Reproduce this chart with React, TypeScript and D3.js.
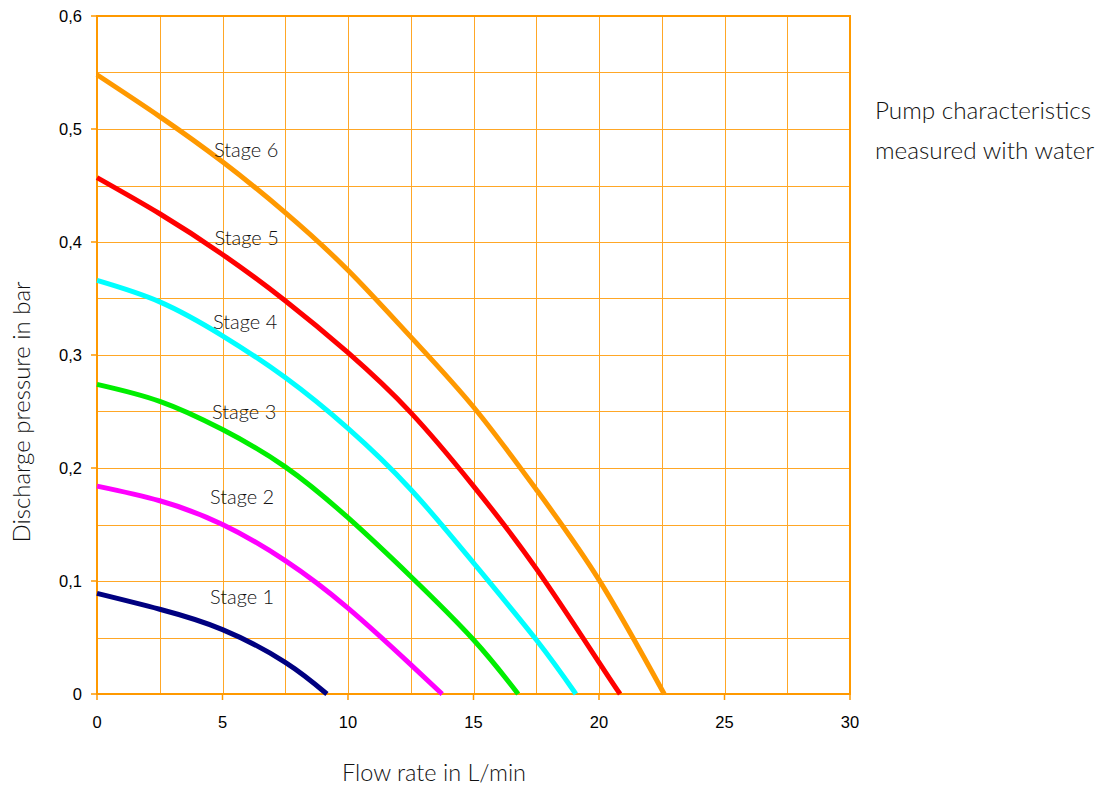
import React from "react";
import * as d3 from "d3";

const stageNames = ["Stage 1", "Stage 2", "Stage 3", "Stage 4", "Stage 5", "Stage 6"];
const stageColors = ["#000080", "#ff00ff", "#00ee00", "#00ffff", "#ff0000", "#ff9900"];

const stage1: [number, number][] = [[0, 0.089], [2.5, 0.075], [5, 0.057], [7.5, 0.028], [9.16, 0]];
const stage2: [number, number][] = [[0, 0.184], [2.5, 0.171], [5, 0.150], [7.5, 0.118], [10, 0.076], [12.5, 0.026], [13.75, 0]];
const stage3: [number, number][] = [[0, 0.274], [2.5, 0.259], [5, 0.234], [7.5, 0.201], [10, 0.156], [12.5, 0.104], [15, 0.048], [16.78, 0]];
const stage4: [number, number][] = [[0, 0.366], [2.5, 0.347], [5, 0.317], [7.5, 0.280], [10, 0.235], [12.5, 0.181], [15, 0.116], [17.5, 0.048], [19.08, 0]];
const stage5: [number, number][] = [[0, 0.457], [2.5, 0.425], [5, 0.389], [7.5, 0.348], [10, 0.302], [12.5, 0.249], [15, 0.184], [17.5, 0.111], [20, 0.028], [20.84, 0]];
const stage6: [number, number][] = [[0, 0.548], [2.5, 0.511], [5, 0.471], [7.5, 0.426], [10, 0.375], [12.5, 0.316], [15, 0.254], [17.5, 0.181], [20, 0.101], [22.6, 0]];
const stages = [stage1, stage2, stage3, stage4, stage5, stage6];

const labelPos: [number, number][] = [[5.78, 0.080], [5.78, 0.168], [5.86, 0.243], [5.9, 0.323], [5.96, 0.397], [5.94, 0.475]];

const xTicks = [0, 5, 10, 15, 20, 25, 30];
const yTicks = [0, 0.1, 0.2, 0.3, 0.4, 0.5, 0.6];
const xGrid = d3.range(0, 30.01, 2.5);
const yGrid = d3.range(0, 0.601, 0.05);

export default function App() {
  const W = 1099, H = 790;
  const x = d3.scaleLinear().domain([0, 30]).range([97, 850]);
  const y = d3.scaleLinear().domain([0, 0.6]).range([694, 16]);
  const line = d3.line<[number, number]>().x(d => x(d[0])).y(d => y(d[1])).curve(d3.curveNatural);
  const light = "Lato, 'Open Sans', sans-serif";
  const tickFont = "'Liberation Sans', Arial, sans-serif";
  return (
    <svg width={W} height={H} style={{ position: "absolute", left: 0, top: 0, background: "#fff" }}>
      {xGrid.map((v, i) => (
        <line key={"gx" + i} x1={Math.round(x(v)) + 0.5} x2={Math.round(x(v)) + 0.5} y1={y(0.6)} y2={y(0)} stroke="#ffa726" strokeWidth={1} />
      ))}
      {yGrid.map((v, i) => (
        <line key={"gy" + i} x1={x(0)} x2={x(30)} y1={Math.round(y(v)) + 0.5} y2={Math.round(y(v)) + 0.5} stroke="#ffa726" strokeWidth={1} />
      ))}
      {xTicks.map((v, i) => (
        <line key={"xt" + i} x1={x(v)} x2={x(v)} y1={y(0)} y2={y(0) + 6} stroke="#ff9900" strokeWidth={1.5} />
      ))}
      {yTicks.map((v, i) => (
        <line key={"yt" + i} x1={x(0) - 6} x2={x(0)} y1={y(v)} y2={y(v)} stroke="#ff9900" strokeWidth={1.5} />
      ))}
      <rect x={x(0)} y={y(0.6)} width={x(30) - x(0)} height={y(0) - y(0.6)} fill="none" stroke="#ff9900" strokeWidth={2} />
      {stages.map((s, i) => (
        <path key={"s" + i} d={line(s) || ""} fill="none" stroke={stageColors[i]} strokeWidth={5} />
      ))}
      {stageNames.map((n, i) => (
        <text key={"l" + i} x={x(labelPos[i][0])} y={y(labelPos[i][1])} textAnchor="middle" fontFamily={light} fontWeight={300} fontSize={20} fill="#111">{n}</text>
      ))}
      {xTicks.map((v, i) => (
        <text key={"xl" + i} x={x(v)} y={728} textAnchor="middle" fontFamily={tickFont} fontSize={16.5} fill="#000">{v}</text>
      ))}
      {yTicks.map((v, i) => (
        <text key={"yl" + i} x={82} y={y(v) + 6} textAnchor="end" fontFamily={tickFont} fontSize={16.5} fill="#000">{v === 0 ? "0" : v.toFixed(1).replace(".", ",")}</text>
      ))}
      <text x={434} y={781} textAnchor="middle" fontFamily={light} fontWeight={300} fontSize={23.5} fill="#111">Flow rate in L/min</text>
      <text transform="translate(30,412) rotate(-90)" textAnchor="middle" fontFamily={light} fontWeight={300} fontSize={24} fill="#111">Discharge pressure in bar</text>
      <text x={875} y={119} fontFamily={light} fontWeight={300} fontSize={24.3} fill="#111">Pump characteristics</text>
      <text x={875} y={159} fontFamily={light} fontWeight={300} fontSize={24.3} fill="#111">measured with water</text>
    </svg>
  );
}
